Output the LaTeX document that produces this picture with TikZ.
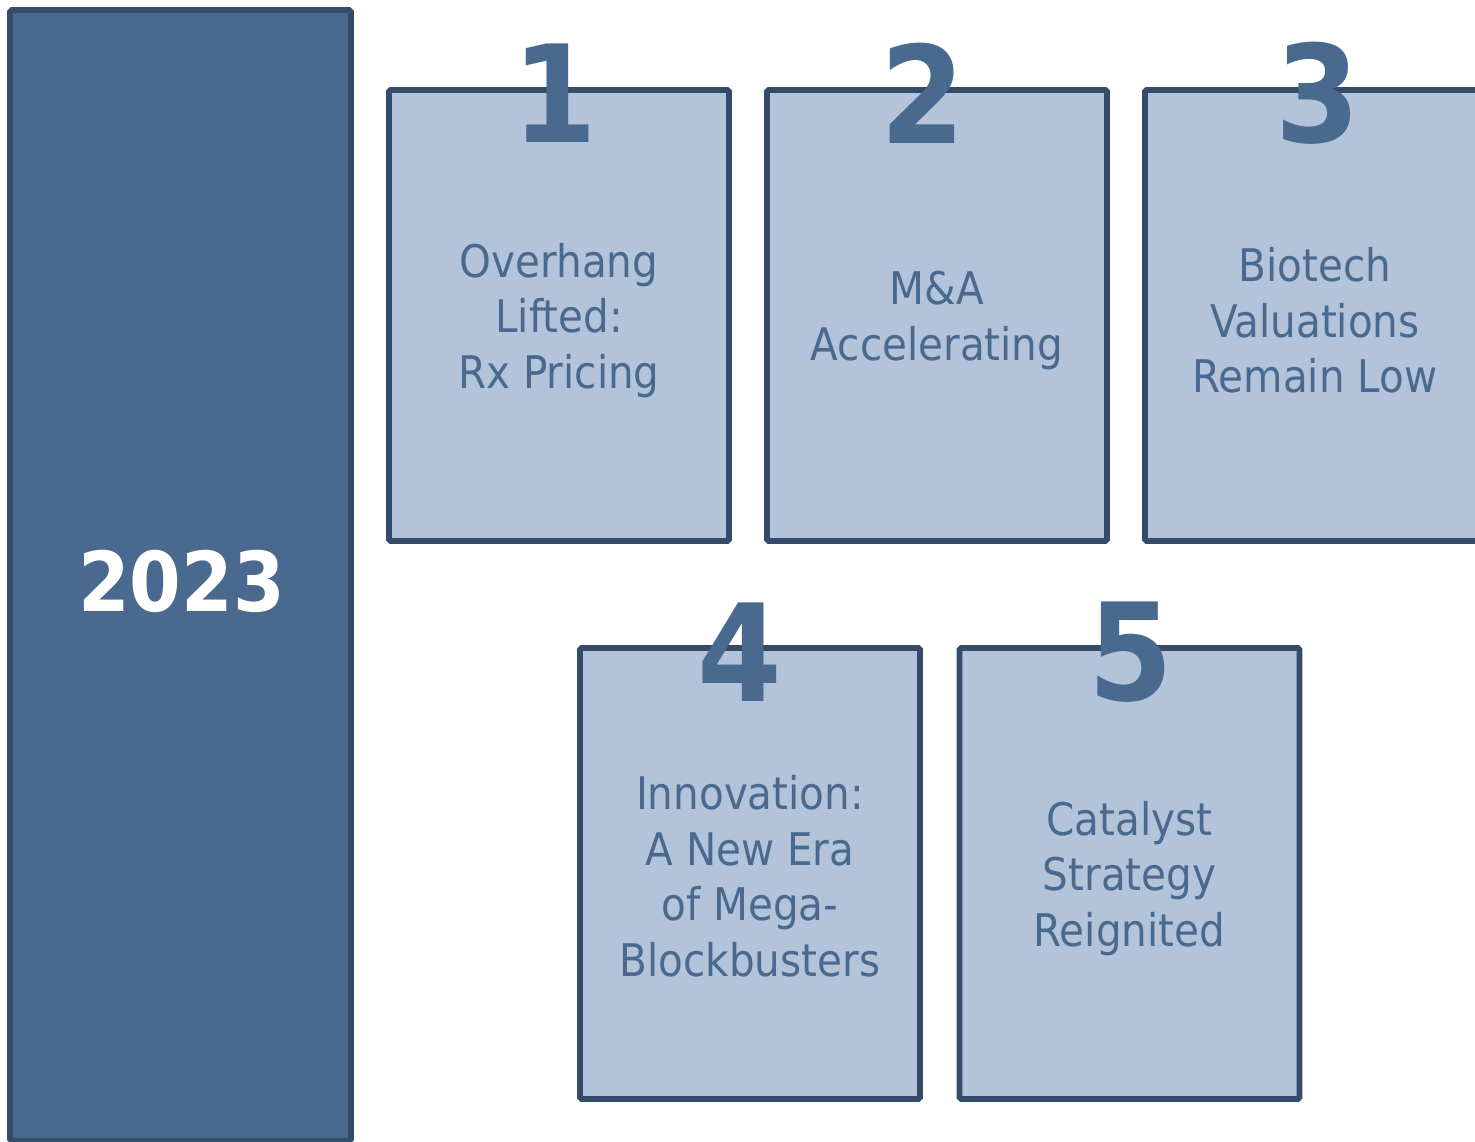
\documentclass[tikz,border=0pt]{standalone}
\usepackage{fontspec}
\setmainfont{DejaVu Sans Condensed}
\usepackage{tikz}
\usetikzlibrary{positioning}

\definecolor{barblue}{HTML}{4A698F}
\definecolor{edgeblue}{HTML}{344B6A}
\definecolor{cardblue}{HTML}{B3C3D9}

\tikzset{
  card/.style={draw=edgeblue, fill=cardblue, line width=3.3pt, rounded corners=1pt,
    minimum width=6.8cm, minimum height=9.02cm, inner sep=0pt},
  cardtext/.style={align=center, inner sep=0pt, text=barblue,
    font=\fontsize{25.6}{31.6}\selectfont},
  num/.style={text=barblue, inner sep=0pt, font=\fontsize{77}{77}\selectfont\bfseries},
}

\begin{document}
\begin{tikzpicture}[x=0.02cm, y=-0.02cm]
  \useasboundingbox (0,0) rectangle (1475,1142);
  \clip (0,0) rectangle (1475,1142);

  % year column on the left
  \node[card, fill=barblue, minimum width=6.82cm, minimum height=22.62cm] (bar) at (180.5,575.5) {};
  \node[text=white, font=\fontsize{47}{47}\selectfont\bfseries] (yr) at (181.5,581) {2023};

  % top row
  \node[card] (c1) at (559,315.5) {};
  \node[card] (c2) at (937,315.5) {};
  \node[card] (c3) at (1315,315.5) {};
  % bottom row
  \node[card] (c4) at (750,873.5) {};
  \node[card] (c5) at (1129.5,873.5) {};

  % card texts, a bit below the middle
  \node[cardtext] (t1) at ([yshift=-0.1cm]c1) {Overhang\\Lifted:\\Rx Pricing};
  \node[cardtext] (t2) at ([yshift=-0.1cm]c2) {M\&A\\Accelerating};
  \node[cardtext] (t3) at ([yshift=-0.1cm]c3) {Biotech\\Valuations\\Remain Low};
  \node[cardtext] (t4) at ([yshift=-0.05cm]c4) {Innovation:\\A New Era\\of Mega-\\Blockbusters};
  \node[cardtext] (t5) at ([yshift=-0.1cm]c5) {Catalyst\\Strategy\\Reignited};

  % numbers sit on the top edges
  \node[num] (n1) at (555,93) {1};
  \node[num] (n2) at (923,93) {2};
  \node[num] (n3) at (1318,93) {3};
  \node[num] (n4) at (740,652) {4};
  \node[num] (n5) at (1131,652) {5};
\end{tikzpicture}
\end{document}
